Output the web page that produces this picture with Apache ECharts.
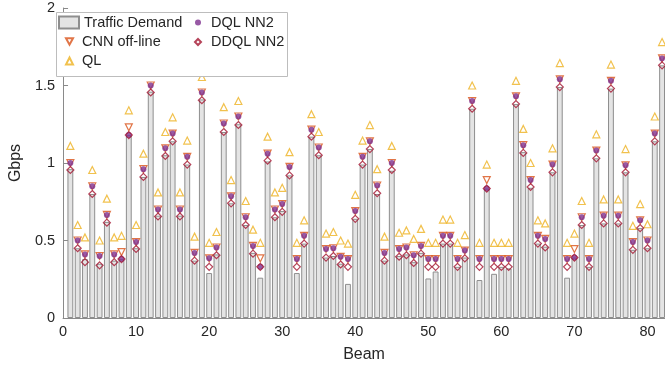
<!DOCTYPE html>
<html>
<head>
<meta charset="utf-8">
<script src="https://cdn.jsdelivr.net/npm/echarts/dist/echarts.min.js"></script>
<style>
  html, body { margin: 0; padding: 0; background: #fff; }
  #chart { width: 665px; height: 368px; }
</style>
</head>
<body>
<div id="chart"></div>
<script>
var beams = [1,2,3,4,5,6,7,8,9,10,11,12,13,14,15,16,17,18,19,20,
  21,22,23,24,25,26,27,28,29,30,31,32,33,34,35,36,37,38,39,40,
  41,42,43,44,45,46,47,48,49,50,51,52,53,54,55,56,57,58,59,60,
  61,62,63,64,65,66,67,68,69,70,71,72,73,74,75,76,77,78,79,80,81,82];

var demand = [0.96,0.45,0.38,0.80,0.35,0.62,0.37,0.38,1.18,0.45,
  0.91,1.46,0.66,1.05,1.14,0.66,0.99,0.37,1.41,0.29,
  0.41,1.20,0.74,1.25,0.60,0.42,0.26,1.01,0.65,0.69,
  0.92,0.29,0.48,1.17,1.05,0.39,0.40,0.35,0.22,0.64,
  0.99,1.09,0.80,0.37,0.95,0.40,0.41,0.36,0.42,0.255,
  0.30,0.48,0.48,0.33,0.39,1.35,0.245,0.835,0.285,0.33,
  0.32,1.38,1.07,0.84,0.48,0.46,0.94,1.49,0.26,0.39,
  0.60,0.33,1.03,0.61,1.48,0.61,0.94,0.44,0.58,0.45,
  1.14,1.63];

var cnn = [1.00,0.50,0.41,0.85,0.40,0.665,0.41,0.425,1.23,0.49,
  0.96,1.50,0.70,1.095,1.19,0.70,1.04,0.42,1.455,0.385,
  0.455,1.255,0.785,1.30,0.65,0.465,0.385,1.06,0.70,0.735,
  0.975,0.38,0.53,1.215,1.10,0.445,0.45,0.395,0.38,0.69,
  1.04,1.14,0.855,0.42,1.00,0.445,0.455,0.405,0.465,0.38,
  0.38,0.53,0.53,0.38,0.435,1.40,0.38,0.89,0.38,0.38,
  0.38,1.43,1.115,0.89,0.53,0.51,0.99,1.54,0.38,0.445,
  0.65,0.38,1.08,0.66,1.53,0.66,0.985,0.49,0.63,0.50,
  1.19,1.675];

var ql = [1.11,0.60,0.52,0.955,0.50,0.77,0.52,0.53,1.34,0.60,
  1.06,1.60,0.81,1.20,1.295,0.81,1.145,0.525,1.555,0.485,
  0.555,1.36,0.89,1.40,0.755,0.57,0.485,1.17,0.81,0.84,
  1.07,0.485,0.63,1.315,1.20,0.545,0.555,0.50,0.48,0.795,
  1.145,1.245,0.96,0.525,1.11,0.55,0.565,0.51,0.575,0.485,
  0.485,0.635,0.635,0.485,0.535,1.50,0.485,0.99,0.485,0.485,
  0.485,1.53,1.22,1.00,0.63,0.61,1.095,1.645,0.485,0.545,
  0.755,0.485,1.185,0.765,1.635,0.765,1.09,0.595,0.735,0.605,
  1.30,1.78];

var dql = [1.00,0.50,0.41,0.85,0.40,0.665,0.41,0.38,1.18,0.49,
  0.96,1.50,0.70,1.095,1.19,0.70,1.04,0.42,1.455,0.385,
  0.455,1.255,0.785,1.30,0.65,0.465,0.33,1.06,0.70,0.735,
  0.975,0.38,0.53,1.215,1.10,0.445,0.45,0.395,0.38,0.69,
  1.04,1.14,0.855,0.42,1.00,0.445,0.455,0.405,0.465,0.38,
  0.38,0.53,0.53,0.38,0.435,1.40,0.38,0.835,0.38,0.38,
  0.38,1.43,1.115,0.89,0.53,0.51,0.99,1.54,0.38,0.39,
  0.65,0.38,1.08,0.66,1.53,0.66,0.985,0.49,0.63,0.50,
  1.19,1.675];

var ddql = [0.955,0.45,0.36,0.80,0.34,0.615,0.36,0.38,1.18,0.445,
  0.91,1.455,0.655,1.045,1.14,0.655,0.99,0.37,1.405,0.33,
  0.405,1.20,0.74,1.245,0.60,0.415,0.33,1.015,0.65,0.685,
  0.92,0.33,0.48,1.17,1.05,0.39,0.40,0.345,0.33,0.64,
  0.99,1.09,0.805,0.37,0.955,0.395,0.405,0.355,0.415,0.33,
  0.33,0.48,0.48,0.33,0.385,1.35,0.33,0.835,0.33,0.33,
  0.33,1.38,1.065,0.845,0.48,0.455,0.94,1.49,0.33,0.39,
  0.60,0.33,1.03,0.61,1.48,0.61,0.94,0.44,0.58,0.45,
  1.14,1.63];

var font = 'Liberation Sans, Arial, sans-serif';
var axisColor = '#8a8a8a';
var textColor = '#262626';

function pairs(vals) {
  return beams.map(function (b, i) { return [b, vals[i]]; });
}

var chart = echarts.init(document.getElementById('chart'));
var legendText = { color: textColor, fontSize: 14.5, fontFamily: font };

chart.setOption({
  animation: false,
  backgroundColor: '#fff',
  grid: { left: 57, right: 0, top: 8, bottom: 50 },
  graphic: [{
    type: 'rect', z: 90,
    shape: { x: 56.5, y: 12.5, width: 231, height: 64 },
    style: { fill: '#fff', stroke: '#bdbdbd', lineWidth: 1 }
  }],
  legend: [
    { data: [{ name: 'Traffic Demand', icon: 'rect' }], left: 58, top: 15, z: 100, padding: 0,
      itemWidth: 20, itemHeight: 12, textStyle: legendText },
    { data: [{ name: 'CNN off-line', icon: 'path://M0,0L10,0L5,9Z' }, 'QL'],
      orient: 'vertical', left: 65, top: 34, z: 100, padding: 0,
      itemWidth: 7, itemHeight: 7, itemGap: 4.5,
      textStyle: Object.assign({ padding: [0, 0, 0, 4] }, legendText) },
    { data: ['DQL NN2', 'DDQL NN2'], orient: 'vertical', left: 194, top: 15, z: 100, padding: 0,
      itemWidth: 6, itemHeight: 6, itemGap: 4.5,
      textStyle: Object.assign({ padding: [0, 0, 0, 5] }, legendText) }
  ],
  xAxis: {
    type: 'value', min: 0, max: 82.4, interval: 10,
    name: 'Beam', nameLocation: 'middle', nameGap: 29,
    nameTextStyle: { color: textColor, fontSize: 16, fontFamily: font },
    axisLine: { lineStyle: { color: axisColor } },
    axisTick: { inside: true, length: 5, lineStyle: { color: axisColor } },
    axisLabel: { color: textColor, fontSize: 14.5, fontFamily: font, margin: 6, showMaxLabel: false },
    splitLine: { show: false }
  },
  yAxis: {
    type: 'value', min: 0, max: 2, interval: 0.5,
    name: 'Gbps', nameLocation: 'middle', nameGap: 32,
    nameTextStyle: { color: textColor, fontSize: 16, fontFamily: font },
    axisLine: { show: true, lineStyle: { color: axisColor } },
    axisTick: { show: true, inside: true, length: 5, lineStyle: { color: axisColor } },
    axisLabel: { color: textColor, fontSize: 14.5, fontFamily: font, margin: 8 },
    splitLine: { show: false }
  },
  series: [
    {
      name: 'Traffic Demand', type: 'bar', data: pairs(demand), barWidth: '80%',
      itemStyle: { color: '#e4e4e4', borderColor: '#8e8e8e', borderWidth: 1 }
    },
    {
      name: 'CNN off-line', type: 'scatter', data: pairs(cnn),
      symbol: 'triangle', symbolRotate: 180, symbolSize: 7,
      itemStyle: { color: 'transparent', borderColor: '#D95319', borderWidth: 1.2 }
    },
    {
      name: 'QL', type: 'scatter', data: pairs(ql),
      symbol: 'triangle', symbolSize: 7,
      itemStyle: { color: 'transparent', borderColor: '#EDB120', borderWidth: 1.2 }
    },
    {
      name: 'DQL NN2', type: 'scatter', data: pairs(dql),
      symbol: 'circle', symbolSize: 6,
      itemStyle: { color: '#7E2F8E' }
    },
    {
      name: 'DDQL NN2', type: 'scatter', data: pairs(ddql),
      symbol: 'diamond', symbolSize: 7,
      itemStyle: { color: 'transparent', borderColor: '#A2142F', borderWidth: 1.2 }
    }
  ]
});
</script>
</body>
</html>
